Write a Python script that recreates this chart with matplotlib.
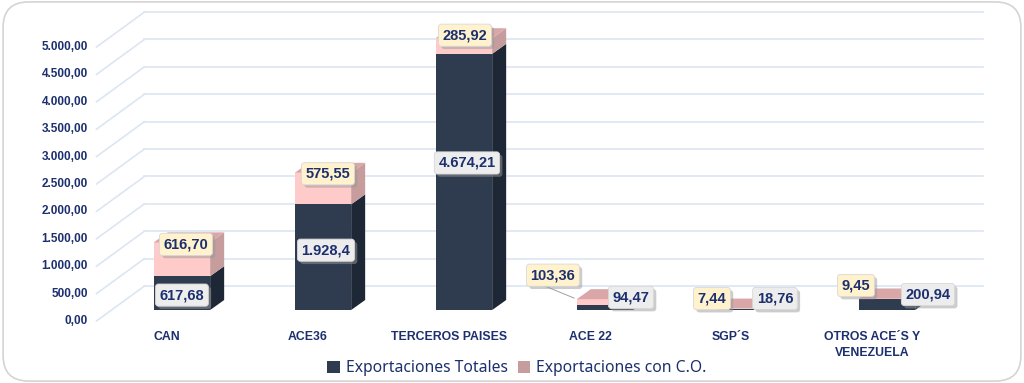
import matplotlib
matplotlib.use("Agg")
import matplotlib.pyplot as plt
from matplotlib.patches import Polygon, Rectangle, FancyBboxPatch, Patch
from matplotlib import patheffects

# datos
categorias = ["CAN", "ACE36", "TERCEROS PAISES", "ACE 22", "SGP´S", "OTROS ACE´S Y\nVENEZUELA"]
totales = [617.68, 1928.40, 4674.21, 94.47, 18.76, 200.94]
con_co = [616.70, 575.55, 285.92, 103.36, 7.44, 9.45]
etiq_tot = ["617,68", "1.928,4", "4.674,21", "94,47", "18,76", "200,94"]
etiq_co = ["616,70", "575,55", "285,92", "103,36", "7,44", "9,45"]
ticks = [0, 500, 1000, 1500, 2000, 2500, 3000, 3500, 4000, 4500, 5000]
tick_labels = ["0,00", "500,00", "1.000,00", "1.500,00", "2.000,00", "2.500,00",
               "3.000,00", "3.500,00", "4.000,00", "4.500,00", "5.000,00"]

# desplazamientos de etiquetas en px (x, y hacia arriba)
off_tot = [(0, -2), (3, 7), (3, 19), (26, 10), (29, 11), (41, 10)]
off_co = [(4, -2), (5, -1), (1, 3), (-52, 24), (-34, 10), (-31, 13)]
linea_guia = [False, False, False, True, False, False]

AZUL = "#1C2F6E"
OSCURO = "#2F3B4F"
OSCURO_LADO = "#1E2735"
ROSA = "#FFCACA"
ROSA_LADO = "#C69C9C"
ROSA_TOP = "#D9A7A7"
OSCURO_TOP = "#3A4659"
GRID = "#DCE6F2"

fig = plt.figure(figsize=(10.24, 3.83), dpi=100)
ax = fig.add_axes([0, 0, 1, 1])
ax.set_xlim(-1.184, 6.078)
ax.set_ylim(-1131, 5858)
ax.axis("off")

# marco redondeado
fig.patches.append(FancyBboxPatch((0.003, 0.005), 0.994, 0.99,
                                  boxstyle="round,pad=0,rounding_size=0.025",
                                  transform=fig.transFigure, facecolor="none",
                                  edgecolor="#D4D4D4", linewidth=1.2, zorder=0,
                                  mutation_aspect=2.67))

px_x = 1 / 141.0          # unidades de categoría por px
px_y = 1 / 0.0548         # unidades de valor por px
dxw, dyw = 48 * px_x, 35 * px_y      # profundidad de la pared
dx0, dy0 = 15 * px_x, 11 * px_y      # posición de las barras en profundidad
ddx, ddy = 14 * px_x, 10 * px_y      # profundidad de las barras
w = 0.40

# rejilla
for t in ticks:
    ax.plot([-0.5 + dxw, 5.5 + dxw - 0.05], [t + dyw, t + dyw], color=GRID, lw=1.2, zorder=1)
    ax.plot([-0.5, -0.5 + dxw], [t, t + dyw], color=GRID, lw=1.2, zorder=1)
for t, lab in zip(ticks, tick_labels):
    ax.text(-0.56, t, lab, ha="right", va="center", fontsize=8.5, fontweight="bold",
            color=AZUL, family="Liberation Sans")


def caja(i, base, alto, cara, lado, top, dibuja_top):
    x0 = i - w / 2 + dx0
    y0 = base + dy0
    y1 = base + alto + dy0
    ax.add_patch(Rectangle((x0, y0), w, alto, facecolor=cara, edgecolor="none", zorder=3))
    ax.add_patch(Polygon([(x0 + w, y0), (x0 + w + ddx, y0 + ddy), (x0 + w + ddx, y1 + ddy), (x0 + w, y1)],
                         facecolor=lado, edgecolor="none", zorder=3))
    if dibuja_top:
        ax.add_patch(Polygon([(x0, y1), (x0 + w, y1), (x0 + w + ddx, y1 + ddy), (x0 + ddx, y1 + ddy)],
                             facecolor=top, edgecolor="none", zorder=3))


def etiqueta(x, y, txt, off, fc):
    ann = ax.annotate(txt, (x, y), xytext=(off[0] * 0.72, off[1] * 0.72), textcoords="offset points",
                      ha="center", va="center", fontsize=10.5, fontweight="bold", color=AZUL,
                      family="Liberation Sans", zorder=6,
                      bbox=dict(boxstyle="round,pad=0.28,rounding_size=0.2", fc=fc, ec="#D8D8D8", lw=0.6))
    ann.get_bbox_patch().set_path_effects([
        patheffects.SimplePatchShadow(offset=(2, -2), shadow_rgbFace="#9A9A9A", alpha=0.5),
        patheffects.Normal()])


for i in range(len(categorias)):
    caja(i, 0, totales[i], OSCURO, OSCURO_LADO, OSCURO_TOP, False)
    caja(i, totales[i], con_co[i], ROSA, ROSA_LADO, ROSA_TOP, True)
    xc = i + dx0
    etiqueta(xc, totales[i] / 2 + dy0, etiq_tot[i], off_tot[i], "#EDEDED")
    tope = totales[i] + con_co[i] + dy0
    if linea_guia[i]:
        ax.annotate("", (i - w / 2 + dx0, tope), xytext=(off_co[i][0] * 0.72 + 10, off_co[i][1] * 0.72 - 6),
                    textcoords="offset points", arrowprops=dict(arrowstyle="-", color="#A0A0A0", lw=0.7),
                    zorder=4)
    etiqueta(xc, tope, etiq_co[i], off_co[i], "#FFF2CC")
    ax.text(i, -190, categorias[i], ha="center", va="top", fontsize=8.8, fontweight="bold",
            color=AZUL, family="Liberation Sans", linespacing=1.45)

handles = [Patch(facecolor=OSCURO, edgecolor="none"), Patch(facecolor=ROSA_LADO, edgecolor="none")]
fig.legend(handles, ["Exportaciones Totales", "Exportaciones con C.O."], loc="center",
           bbox_to_anchor=(0.505, 0.038), ncol=2, frameon=False, handlelength=0.8, handleheight=0.8,
           handletextpad=0.4, columnspacing=0.6, prop={"family": "Noto Sans", "size": 11.3},
           labelcolor=AZUL)

fig.savefig("out.png", dpi=100)
